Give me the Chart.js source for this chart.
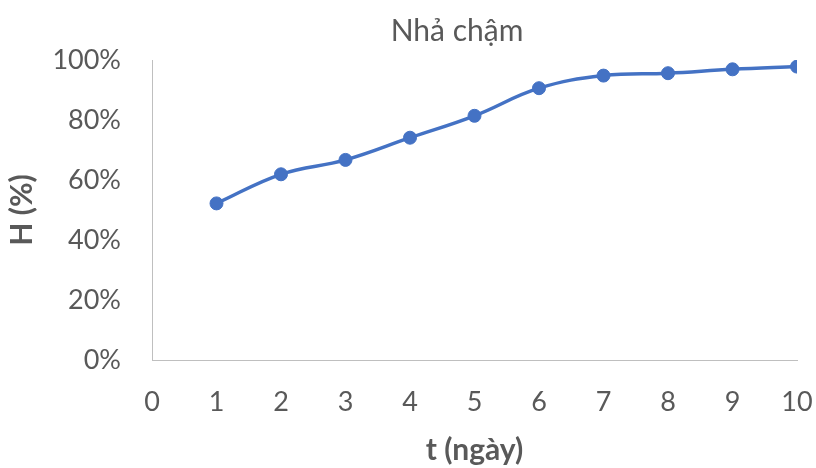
<!DOCTYPE html>
<html>
<head>
<meta charset="utf-8">
<script src="https://cdn.jsdelivr.net/npm/chart.js@4/dist/chart.umd.min.js"></script>
<style>
  html, body { margin: 0; padding: 0; background: #fff; }
  #wrap { width: 816px; height: 468px; }
</style>
</head>
<body>
<div id="wrap"><canvas id="chart" width="816" height="468"></canvas></div>
<script>
// Data
const days = [1, 2, 3, 4, 5, 6, 7, 8, 9, 10];
const release = [0.522, 0.619, 0.667, 0.741, 0.814, 0.906, 0.948, 0.956, 0.969, 0.978];
const chartTitle = 'Nhả chậm';
const xTitle = 't (ngày)';
const yTitle = 'H (%)';

const textColor = '#595959';
const lineColor = '#4472C4';
const fontFamily = 'Lato, "Open Sans", sans-serif';

// Title drawn above the plot, a bit left of the plot centre like the original
const titlePlugin = {
    id: 'topTitle',
    afterDraw(chart) {
        const ctx = chart.ctx;
        ctx.save();
        ctx.font = '30px ' + fontFamily;
        ctx.fillStyle = textColor;
        ctx.textAlign = 'center';
        ctx.textBaseline = 'middle';
        ctx.fillText(chartTitle, 457, 31);
        ctx.restore();
    }
};

const ctx = document.getElementById('chart').getContext('2d');
const chart = new Chart(ctx, {
    type: 'scatter',
    data: {
        datasets: [{
            data: days.map((d, i) => ({ x: d, y: release[i] })),
            showLine: true,
            tension: 0.4,
            borderColor: lineColor,
            backgroundColor: lineColor,
            borderWidth: 3.5,
            pointRadius: 6.5,
            pointBorderWidth: 1,
            pointBorderColor: lineColor,
            pointBackgroundColor: lineColor,
        }]
    },
    options: {
        responsive: false,
        animation: false,
        layout: { padding: { left: 0, right: 19, top: 60, bottom: 0 } },
        plugins: {
            legend: { display: false },
            tooltip: { enabled: false },
        },
        scales: {
            x: {
                type: 'linear',
                min: 0,
                max: 10,
                afterFit: s => {
                    s.height = 108;
                    s.paddingLeft = 0;
                    s.paddingRight = 0;
                },
                grid: { display: false, drawTicks: false },
                border: { display: true, color: '#bfbfbf', width: 1 },
                ticks: {
                    stepSize: 1,
                    padding: 26,
                    color: textColor,
                    font: { family: fontFamily, size: 27 },
                },
                title: {
                    display: true,
                    text: xTitle,
                    color: textColor,
                    font: { family: fontFamily, size: 30, weight: 'bold' },
                    padding: { top: 0, bottom: 0 },
                },
            },
            y: {
                min: 0,
                max: 1,
                afterFit: s => {
                    s.width = 152;
                    s.paddingTop = 0;
                    s.paddingBottom = 0;
                },
                grid: { display: false, drawTicks: false },
                border: { display: true, color: '#bfbfbf', width: 1 },
                ticks: {
                    stepSize: 0.2,
                    padding: 31,
                    color: textColor,
                    font: { family: fontFamily, size: 27 },
                    callback: v => Math.round(v * 100) + '%',
                },
                title: {
                    display: true,
                    text: yTitle,
                    color: textColor,
                    font: { family: fontFamily, size: 30, weight: 'bold' },
                    padding: { top: 4, bottom: 0 },
                },
            },
        },
    },
    plugins: [titlePlugin],
});
</script>
</body>
</html>
